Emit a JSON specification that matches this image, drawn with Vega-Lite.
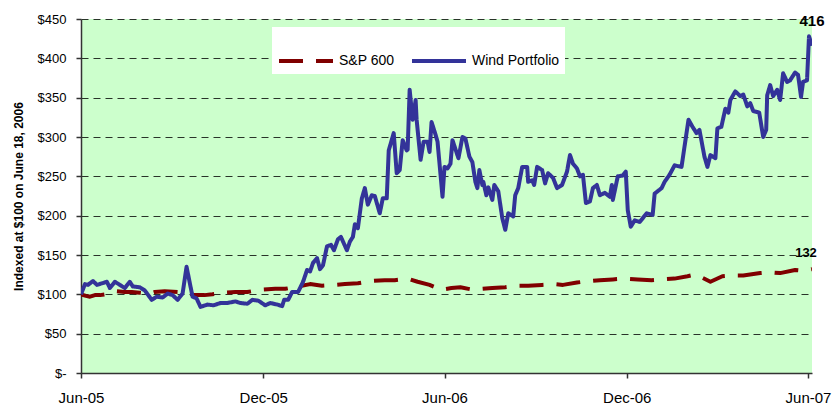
{
  "$schema": "https://vega.github.io/schema/vega-lite/v6.json",
  "width": 731,
  "height": 354,
  "autosize": {"type": "none"},
  "padding": {"left": 81, "top": 19, "right": 22, "bottom": 36},
  "background": "white",
  "config": {
    "view": {"fill": "#CCFFCC", "stroke": null},
    "font": "Liberation Sans"
  },
  "datasets": {
    "series": [
      {"series": "S&P 600", "date": "2005-06-01", "value": 100},
      {"series": "S&P 600", "date": "2005-06-06", "value": 98},
      {"series": "S&P 600", "date": "2005-06-10", "value": 97},
      {"series": "S&P 600", "date": "2005-06-15", "value": 99},
      {"series": "S&P 600", "date": "2005-06-20", "value": 99},
      {"series": "S&P 600", "date": "2005-06-25", "value": 100},
      {"series": "S&P 600", "date": "2005-07-02", "value": 102},
      {"series": "S&P 600", "date": "2005-07-07", "value": 104},
      {"series": "S&P 600", "date": "2005-07-15", "value": 103},
      {"series": "S&P 600", "date": "2005-07-22", "value": 103},
      {"series": "S&P 600", "date": "2005-07-30", "value": 102},
      {"series": "S&P 600", "date": "2005-08-09", "value": 101},
      {"series": "S&P 600", "date": "2005-08-14", "value": 103},
      {"series": "S&P 600", "date": "2005-08-24", "value": 104},
      {"series": "S&P 600", "date": "2005-09-06", "value": 103},
      {"series": "S&P 600", "date": "2005-09-18", "value": 101},
      {"series": "S&P 600", "date": "2005-09-23", "value": 99},
      {"series": "S&P 600", "date": "2005-10-03", "value": 99},
      {"series": "S&P 600", "date": "2005-10-11", "value": 100},
      {"series": "S&P 600", "date": "2005-10-22", "value": 102},
      {"series": "S&P 600", "date": "2005-11-03", "value": 103},
      {"series": "S&P 600", "date": "2005-11-15", "value": 103},
      {"series": "S&P 600", "date": "2005-11-30", "value": 106},
      {"series": "S&P 600", "date": "2005-12-13", "value": 107},
      {"series": "S&P 600", "date": "2005-12-23", "value": 107},
      {"series": "S&P 600", "date": "2006-01-05", "value": 110},
      {"series": "S&P 600", "date": "2006-01-17", "value": 113},
      {"series": "S&P 600", "date": "2006-01-29", "value": 111},
      {"series": "S&P 600", "date": "2006-02-11", "value": 112},
      {"series": "S&P 600", "date": "2006-02-21", "value": 113},
      {"series": "S&P 600", "date": "2006-03-06", "value": 114},
      {"series": "S&P 600", "date": "2006-03-20", "value": 117},
      {"series": "S&P 600", "date": "2006-04-02", "value": 118},
      {"series": "S&P 600", "date": "2006-04-12", "value": 118},
      {"series": "S&P 600", "date": "2006-04-25", "value": 120},
      {"series": "S&P 600", "date": "2006-05-05", "value": 116},
      {"series": "S&P 600", "date": "2006-05-17", "value": 112},
      {"series": "S&P 600", "date": "2006-05-29", "value": 106},
      {"series": "S&P 600", "date": "2006-06-08", "value": 108},
      {"series": "S&P 600", "date": "2006-06-17", "value": 109},
      {"series": "S&P 600", "date": "2006-06-29", "value": 106},
      {"series": "S&P 600", "date": "2006-07-09", "value": 107},
      {"series": "S&P 600", "date": "2006-07-19", "value": 108},
      {"series": "S&P 600", "date": "2006-08-01", "value": 109},
      {"series": "S&P 600", "date": "2006-08-14", "value": 111},
      {"series": "S&P 600", "date": "2006-08-24", "value": 111},
      {"series": "S&P 600", "date": "2006-09-07", "value": 112},
      {"series": "S&P 600", "date": "2006-09-20", "value": 113},
      {"series": "S&P 600", "date": "2006-09-28", "value": 112},
      {"series": "S&P 600", "date": "2006-10-12", "value": 115},
      {"series": "S&P 600", "date": "2006-10-25", "value": 117},
      {"series": "S&P 600", "date": "2006-11-04", "value": 118},
      {"series": "S&P 600", "date": "2006-11-17", "value": 119},
      {"series": "S&P 600", "date": "2006-11-29", "value": 120},
      {"series": "S&P 600", "date": "2006-12-12", "value": 119},
      {"series": "S&P 600", "date": "2006-12-26", "value": 118},
      {"series": "S&P 600", "date": "2007-01-06", "value": 119},
      {"series": "S&P 600", "date": "2007-01-18", "value": 120},
      {"series": "S&P 600", "date": "2007-01-31", "value": 123},
      {"series": "S&P 600", "date": "2007-02-07", "value": 125},
      {"series": "S&P 600", "date": "2007-02-15", "value": 121},
      {"series": "S&P 600", "date": "2007-02-23", "value": 116},
      {"series": "S&P 600", "date": "2007-03-07", "value": 123},
      {"series": "S&P 600", "date": "2007-03-18", "value": 124},
      {"series": "S&P 600", "date": "2007-03-28", "value": 124},
      {"series": "S&P 600", "date": "2007-04-14", "value": 127},
      {"series": "S&P 600", "date": "2007-04-24", "value": 128},
      {"series": "S&P 600", "date": "2007-05-04", "value": 127},
      {"series": "S&P 600", "date": "2007-05-19", "value": 131},
      {"series": "S&P 600", "date": "2007-05-27", "value": 130},
      {"series": "S&P 600", "date": "2007-06-05", "value": 132},

      {"series": "Wind Portfolio", "date": "2005-06-01", "value": 100},
      {"series": "Wind Portfolio", "date": "2005-06-05", "value": 113},
      {"series": "Wind Portfolio", "date": "2005-06-08", "value": 112},
      {"series": "Wind Portfolio", "date": "2005-06-13", "value": 117},
      {"series": "Wind Portfolio", "date": "2005-06-17", "value": 112},
      {"series": "Wind Portfolio", "date": "2005-06-27", "value": 116},
      {"series": "Wind Portfolio", "date": "2005-06-30", "value": 108},
      {"series": "Wind Portfolio", "date": "2005-07-05", "value": 116},
      {"series": "Wind Portfolio", "date": "2005-07-10", "value": 112},
      {"series": "Wind Portfolio", "date": "2005-07-15", "value": 108},
      {"series": "Wind Portfolio", "date": "2005-07-20", "value": 116},
      {"series": "Wind Portfolio", "date": "2005-07-23", "value": 110},
      {"series": "Wind Portfolio", "date": "2005-07-30", "value": 109},
      {"series": "Wind Portfolio", "date": "2005-08-04", "value": 105},
      {"series": "Wind Portfolio", "date": "2005-08-11", "value": 93},
      {"series": "Wind Portfolio", "date": "2005-08-16", "value": 97},
      {"series": "Wind Portfolio", "date": "2005-08-22", "value": 96},
      {"series": "Wind Portfolio", "date": "2005-08-27", "value": 101},
      {"series": "Wind Portfolio", "date": "2005-09-01", "value": 99},
      {"series": "Wind Portfolio", "date": "2005-09-06", "value": 93},
      {"series": "Wind Portfolio", "date": "2005-09-11", "value": 101},
      {"series": "Wind Portfolio", "date": "2005-09-15", "value": 135},
      {"series": "Wind Portfolio", "date": "2005-09-18", "value": 116},
      {"series": "Wind Portfolio", "date": "2005-09-21", "value": 97},
      {"series": "Wind Portfolio", "date": "2005-09-25", "value": 95},
      {"series": "Wind Portfolio", "date": "2005-09-29", "value": 84},
      {"series": "Wind Portfolio", "date": "2005-10-06", "value": 87},
      {"series": "Wind Portfolio", "date": "2005-10-12", "value": 86},
      {"series": "Wind Portfolio", "date": "2005-10-19", "value": 89},
      {"series": "Wind Portfolio", "date": "2005-10-26", "value": 89},
      {"series": "Wind Portfolio", "date": "2005-11-03", "value": 91},
      {"series": "Wind Portfolio", "date": "2005-11-08", "value": 89},
      {"series": "Wind Portfolio", "date": "2005-11-15", "value": 88},
      {"series": "Wind Portfolio", "date": "2005-11-20", "value": 93},
      {"series": "Wind Portfolio", "date": "2005-11-26", "value": 92},
      {"series": "Wind Portfolio", "date": "2005-12-03", "value": 86},
      {"series": "Wind Portfolio", "date": "2005-12-08", "value": 89},
      {"series": "Wind Portfolio", "date": "2005-12-15", "value": 87},
      {"series": "Wind Portfolio", "date": "2005-12-20", "value": 85},
      {"series": "Wind Portfolio", "date": "2005-12-22", "value": 93},
      {"series": "Wind Portfolio", "date": "2005-12-26", "value": 93},
      {"series": "Wind Portfolio", "date": "2005-12-30", "value": 103},
      {"series": "Wind Portfolio", "date": "2006-01-05", "value": 103},
      {"series": "Wind Portfolio", "date": "2006-01-10", "value": 116},
      {"series": "Wind Portfolio", "date": "2006-01-14", "value": 131},
      {"series": "Wind Portfolio", "date": "2006-01-17", "value": 129},
      {"series": "Wind Portfolio", "date": "2006-01-20", "value": 140},
      {"series": "Wind Portfolio", "date": "2006-01-24", "value": 146},
      {"series": "Wind Portfolio", "date": "2006-01-27", "value": 132},
      {"series": "Wind Portfolio", "date": "2006-01-30", "value": 137},
      {"series": "Wind Portfolio", "date": "2006-02-03", "value": 161},
      {"series": "Wind Portfolio", "date": "2006-02-07", "value": 163},
      {"series": "Wind Portfolio", "date": "2006-02-10", "value": 156},
      {"series": "Wind Portfolio", "date": "2006-02-14", "value": 170},
      {"series": "Wind Portfolio", "date": "2006-02-17", "value": 173},
      {"series": "Wind Portfolio", "date": "2006-02-23", "value": 156},
      {"series": "Wind Portfolio", "date": "2006-02-26", "value": 167},
      {"series": "Wind Portfolio", "date": "2006-03-01", "value": 173},
      {"series": "Wind Portfolio", "date": "2006-03-03", "value": 189},
      {"series": "Wind Portfolio", "date": "2006-03-06", "value": 184},
      {"series": "Wind Portfolio", "date": "2006-03-10", "value": 222},
      {"series": "Wind Portfolio", "date": "2006-03-13", "value": 235},
      {"series": "Wind Portfolio", "date": "2006-03-16", "value": 214},
      {"series": "Wind Portfolio", "date": "2006-03-20", "value": 226},
      {"series": "Wind Portfolio", "date": "2006-03-23", "value": 225},
      {"series": "Wind Portfolio", "date": "2006-03-28", "value": 203},
      {"series": "Wind Portfolio", "date": "2006-03-31", "value": 222},
      {"series": "Wind Portfolio", "date": "2006-04-04", "value": 222},
      {"series": "Wind Portfolio", "date": "2006-04-06", "value": 283},
      {"series": "Wind Portfolio", "date": "2006-04-11", "value": 305},
      {"series": "Wind Portfolio", "date": "2006-04-14", "value": 254},
      {"series": "Wind Portfolio", "date": "2006-04-17", "value": 258},
      {"series": "Wind Portfolio", "date": "2006-04-20", "value": 296},
      {"series": "Wind Portfolio", "date": "2006-04-24", "value": 283},
      {"series": "Wind Portfolio", "date": "2006-04-25", "value": 284},
      {"series": "Wind Portfolio", "date": "2006-04-27", "value": 360},
      {"series": "Wind Portfolio", "date": "2006-04-30", "value": 322},
      {"series": "Wind Portfolio", "date": "2006-05-03", "value": 347},
      {"series": "Wind Portfolio", "date": "2006-05-04", "value": 322},
      {"series": "Wind Portfolio", "date": "2006-05-08", "value": 271},
      {"series": "Wind Portfolio", "date": "2006-05-11", "value": 294},
      {"series": "Wind Portfolio", "date": "2006-05-15", "value": 294},
      {"series": "Wind Portfolio", "date": "2006-05-17", "value": 281},
      {"series": "Wind Portfolio", "date": "2006-05-19", "value": 319},
      {"series": "Wind Portfolio", "date": "2006-05-23", "value": 303},
      {"series": "Wind Portfolio", "date": "2006-05-25", "value": 294},
      {"series": "Wind Portfolio", "date": "2006-05-30", "value": 224},
      {"series": "Wind Portfolio", "date": "2006-06-01", "value": 262},
      {"series": "Wind Portfolio", "date": "2006-06-04", "value": 260},
      {"series": "Wind Portfolio", "date": "2006-06-07", "value": 266},
      {"series": "Wind Portfolio", "date": "2006-06-09", "value": 296},
      {"series": "Wind Portfolio", "date": "2006-06-15", "value": 273},
      {"series": "Wind Portfolio", "date": "2006-06-19", "value": 300},
      {"series": "Wind Portfolio", "date": "2006-06-22", "value": 298},
      {"series": "Wind Portfolio", "date": "2006-06-26", "value": 275},
      {"series": "Wind Portfolio", "date": "2006-06-29", "value": 268},
      {"series": "Wind Portfolio", "date": "2006-07-02", "value": 243},
      {"series": "Wind Portfolio", "date": "2006-07-04", "value": 235},
      {"series": "Wind Portfolio", "date": "2006-07-06", "value": 258},
      {"series": "Wind Portfolio", "date": "2006-07-09", "value": 239},
      {"series": "Wind Portfolio", "date": "2006-07-10", "value": 243},
      {"series": "Wind Portfolio", "date": "2006-07-13", "value": 226},
      {"series": "Wind Portfolio", "date": "2006-07-15", "value": 236},
      {"series": "Wind Portfolio", "date": "2006-07-19", "value": 220},
      {"series": "Wind Portfolio", "date": "2006-07-21", "value": 239},
      {"series": "Wind Portfolio", "date": "2006-07-25", "value": 231},
      {"series": "Wind Portfolio", "date": "2006-07-29", "value": 197},
      {"series": "Wind Portfolio", "date": "2006-08-01", "value": 182},
      {"series": "Wind Portfolio", "date": "2006-08-04", "value": 203},
      {"series": "Wind Portfolio", "date": "2006-08-09", "value": 199},
      {"series": "Wind Portfolio", "date": "2006-08-11", "value": 226},
      {"series": "Wind Portfolio", "date": "2006-08-14", "value": 235},
      {"series": "Wind Portfolio", "date": "2006-08-18", "value": 262},
      {"series": "Wind Portfolio", "date": "2006-08-23", "value": 262},
      {"series": "Wind Portfolio", "date": "2006-08-24", "value": 243},
      {"series": "Wind Portfolio", "date": "2006-08-28", "value": 245},
      {"series": "Wind Portfolio", "date": "2006-08-30", "value": 239},
      {"series": "Wind Portfolio", "date": "2006-09-02", "value": 262},
      {"series": "Wind Portfolio", "date": "2006-09-07", "value": 258},
      {"series": "Wind Portfolio", "date": "2006-09-10", "value": 241},
      {"series": "Wind Portfolio", "date": "2006-09-13", "value": 254},
      {"series": "Wind Portfolio", "date": "2006-09-18", "value": 248},
      {"series": "Wind Portfolio", "date": "2006-09-22", "value": 235},
      {"series": "Wind Portfolio", "date": "2006-09-27", "value": 239},
      {"series": "Wind Portfolio", "date": "2006-10-02", "value": 256},
      {"series": "Wind Portfolio", "date": "2006-10-05", "value": 277},
      {"series": "Wind Portfolio", "date": "2006-10-08", "value": 266},
      {"series": "Wind Portfolio", "date": "2006-10-12", "value": 260},
      {"series": "Wind Portfolio", "date": "2006-10-15", "value": 250},
      {"series": "Wind Portfolio", "date": "2006-10-18", "value": 252},
      {"series": "Wind Portfolio", "date": "2006-10-21", "value": 216},
      {"series": "Wind Portfolio", "date": "2006-10-25", "value": 218},
      {"series": "Wind Portfolio", "date": "2006-10-28", "value": 235},
      {"series": "Wind Portfolio", "date": "2006-11-01", "value": 239},
      {"series": "Wind Portfolio", "date": "2006-11-04", "value": 226},
      {"series": "Wind Portfolio", "date": "2006-11-09", "value": 229},
      {"series": "Wind Portfolio", "date": "2006-11-14", "value": 224},
      {"series": "Wind Portfolio", "date": "2006-11-16", "value": 239},
      {"series": "Wind Portfolio", "date": "2006-11-17", "value": 220},
      {"series": "Wind Portfolio", "date": "2006-11-22", "value": 250},
      {"series": "Wind Portfolio", "date": "2006-11-27", "value": 251},
      {"series": "Wind Portfolio", "date": "2006-11-30", "value": 256},
      {"series": "Wind Portfolio", "date": "2006-12-02", "value": 207},
      {"series": "Wind Portfolio", "date": "2006-12-05", "value": 186},
      {"series": "Wind Portfolio", "date": "2006-12-09", "value": 194},
      {"series": "Wind Portfolio", "date": "2006-12-14", "value": 192},
      {"series": "Wind Portfolio", "date": "2006-12-21", "value": 203},
      {"series": "Wind Portfolio", "date": "2006-12-27", "value": 201},
      {"series": "Wind Portfolio", "date": "2006-12-29", "value": 228},
      {"series": "Wind Portfolio", "date": "2007-01-05", "value": 235},
      {"series": "Wind Portfolio", "date": "2007-01-08", "value": 243},
      {"series": "Wind Portfolio", "date": "2007-01-13", "value": 252},
      {"series": "Wind Portfolio", "date": "2007-01-18", "value": 264},
      {"series": "Wind Portfolio", "date": "2007-01-25", "value": 262},
      {"series": "Wind Portfolio", "date": "2007-01-30", "value": 305},
      {"series": "Wind Portfolio", "date": "2007-02-01", "value": 322},
      {"series": "Wind Portfolio", "date": "2007-02-05", "value": 313},
      {"series": "Wind Portfolio", "date": "2007-02-09", "value": 305},
      {"series": "Wind Portfolio", "date": "2007-02-12", "value": 309},
      {"series": "Wind Portfolio", "date": "2007-02-17", "value": 275},
      {"series": "Wind Portfolio", "date": "2007-02-20", "value": 262},
      {"series": "Wind Portfolio", "date": "2007-02-23", "value": 277},
      {"series": "Wind Portfolio", "date": "2007-02-28", "value": 273},
      {"series": "Wind Portfolio", "date": "2007-03-02", "value": 311},
      {"series": "Wind Portfolio", "date": "2007-03-06", "value": 313},
      {"series": "Wind Portfolio", "date": "2007-03-10", "value": 336},
      {"series": "Wind Portfolio", "date": "2007-03-13", "value": 331},
      {"series": "Wind Portfolio", "date": "2007-03-15", "value": 347},
      {"series": "Wind Portfolio", "date": "2007-03-20", "value": 358},
      {"series": "Wind Portfolio", "date": "2007-03-25", "value": 352},
      {"series": "Wind Portfolio", "date": "2007-03-28", "value": 354},
      {"series": "Wind Portfolio", "date": "2007-04-01", "value": 339},
      {"series": "Wind Portfolio", "date": "2007-04-04", "value": 343},
      {"series": "Wind Portfolio", "date": "2007-04-07", "value": 333},
      {"series": "Wind Portfolio", "date": "2007-04-13", "value": 331},
      {"series": "Wind Portfolio", "date": "2007-04-17", "value": 300},
      {"series": "Wind Portfolio", "date": "2007-04-20", "value": 309},
      {"series": "Wind Portfolio", "date": "2007-04-21", "value": 353},
      {"series": "Wind Portfolio", "date": "2007-04-24", "value": 366},
      {"series": "Wind Portfolio", "date": "2007-04-27", "value": 352},
      {"series": "Wind Portfolio", "date": "2007-05-01", "value": 360},
      {"series": "Wind Portfolio", "date": "2007-05-04", "value": 347},
      {"series": "Wind Portfolio", "date": "2007-05-07", "value": 381},
      {"series": "Wind Portfolio", "date": "2007-05-11", "value": 370},
      {"series": "Wind Portfolio", "date": "2007-05-14", "value": 372},
      {"series": "Wind Portfolio", "date": "2007-05-19", "value": 382},
      {"series": "Wind Portfolio", "date": "2007-05-22", "value": 379},
      {"series": "Wind Portfolio", "date": "2007-05-25", "value": 351},
      {"series": "Wind Portfolio", "date": "2007-05-27", "value": 370},
      {"series": "Wind Portfolio", "date": "2007-05-31", "value": 372},
      {"series": "Wind Portfolio", "date": "2007-06-02", "value": 428},
      {"series": "Wind Portfolio", "date": "2007-06-05", "value": 416}
    ]
  },
  "encoding": {
    "x": {
      "field": "date",
      "type": "temporal",
      "scale": {
        "type": "utc",
        "domain": [
          {"year": 2005, "month": 6, "date": 1, "utc": true},
          {"year": 2007, "month": 6, "date": 5, "utc": true}
        ]
      },
      "axis": {
        "title": null,
        "values": [
          {"year": 2005, "month": 6, "date": 1, "utc": true},
          {"year": 2005, "month": 12, "date": 1, "utc": true},
          {"year": 2006, "month": 6, "date": 1, "utc": true},
          {"year": 2006, "month": 12, "date": 1, "utc": true},
          {"year": 2007, "month": 6, "date": 1, "utc": true}
        ],
        "labelExpr": "utcFormat(datum.value, '%b-%y')",
        "grid": false,
        "tickSize": 5,
        "tickColor": "#333333",
        "tickWidth": 1.5,
        "domainColor": "#333333",
        "domainWidth": 1.5,
        "labelFontSize": 15,
        "labelColor": "#000000",
        "labelPadding": 12,
        "labelFlush": false,
        "labelOverlap": false
      }
    },
    "y": {
      "field": "value",
      "type": "quantitative",
      "scale": {"domain": [0, 450], "nice": false},
      "axis": {
        "title": "Indexed at $100 on June 18, 2006",
        "titleFontSize": 12,
        "titleFontWeight": "bold",
        "titleColor": "#000000",
        "titlePadding": 12,
        "values": [0, 50, 100, 150, 200, 250, 300, 350, 400, 450],
        "labelExpr": "datum.value == 0 ? '$-' : '$' + datum.value",
        "labelOverlap": false,
        "labelFontSize": 13,
        "labelColor": "#000000",
        "labelPadding": 10,
        "tickSize": 5,
        "tickColor": "#333333",
        "tickWidth": 1.5,
        "domainColor": "#333333",
        "domainWidth": 1.5,
        "grid": true,
        "gridColor": "#000000",
        "gridDash": [7, 5],
        "gridWidth": 1,
        "gridOpacity": 0.8
      }
    }
  },
  "layer": [
    {
      "data": {"name": "series"},
      "mark": {"type": "line", "strokeWidth": 4, "strokeJoin": "round", "clip": true},
      "encoding": {
        "color": {
          "field": "series",
          "type": "nominal",
          "scale": {"domain": ["S&P 600", "Wind Portfolio"], "range": ["#800000", "#333399"]},
          "legend": {
            "title": null,
            "orient": "none",
            "legendX": 191,
            "legendY": 8,
            "direction": "horizontal",
            "fillColor": "#ffffff",
            "padding": 5,
            "symbolType": "stroke",
            "symbolSize": 2916,
            "symbolStrokeWidth": 4,
            "labelFontSize": 14,
            "labelColor": "#000000",
            "labelOffset": 4,
            "columnPadding": 9
          }
        },
        "strokeDash": {
          "field": "series",
          "type": "nominal",
          "scale": {"domain": ["S&P 600", "Wind Portfolio"], "range": [[24, 13], [1, 0]]},
          "legend": {
            "title": null,
            "orient": "none",
            "legendX": 191,
            "legendY": 8,
            "direction": "horizontal",
            "fillColor": "#ffffff",
            "padding": 5,
            "symbolType": "stroke",
            "symbolSize": 2916,
            "symbolStrokeWidth": 4,
            "labelFontSize": 14,
            "labelColor": "#000000",
            "labelOffset": 4,
            "columnPadding": 9
          }
        }
      }
    },
    {
      "data": {"values": [{"date": "2007-06-05", "value": 416, "label": "416"}]},
      "mark": {"type": "text", "fontSize": 15, "fontWeight": "bold", "baseline": "bottom", "align": "center", "dy": -17, "clip": false, "color": "#000000"},
      "encoding": {
        "text": {"field": "label"}
      }
    },
    {
      "data": {"values": [{"date": "2007-06-05", "value": 132, "label": "132"}]},
      "mark": {"type": "text", "fontSize": 13, "fontWeight": "bold", "baseline": "bottom", "align": "center", "dx": -6, "dy": -9, "clip": false, "color": "#000000"},
      "encoding": {
        "text": {"field": "label"}
      }
    }
  ]
}
